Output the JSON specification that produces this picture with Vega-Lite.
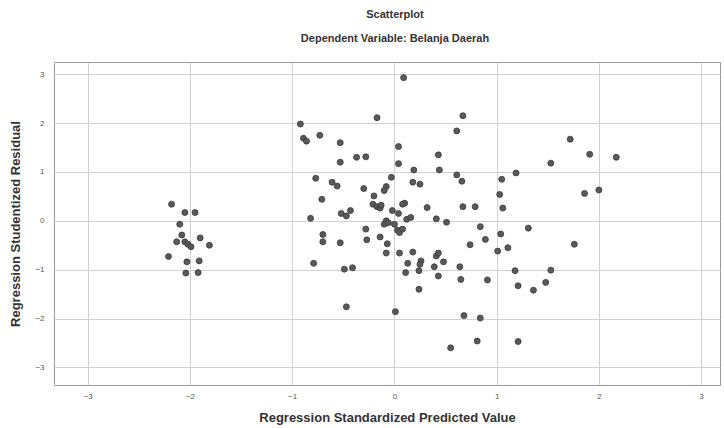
{
  "$schema": "https://vega.github.io/schema/vega-lite/v6.json",
  "width": 666,
  "height": 323,
  "autosize": {"type": "none"},
  "padding": {"left": 54, "top": 62, "right": 4, "bottom": 43},
  "background": "white",
  "title": {
    "text": "Scatterplot",
    "subtitle": "Dependent Variable: Belanja Daerah",
    "anchor": "middle",
    "frame": "group",
    "dx": 8,
    "font": "Liberation Sans",
    "fontSize": 11,
    "fontWeight": "bold",
    "color": "#333",
    "subtitleFont": "Liberation Sans",
    "subtitleFontSize": 11,
    "subtitleFontWeight": "bold",
    "subtitleColor": "#333",
    "subtitlePadding": 13,
    "offset": 18
  },
  "config": {
    "view": {"stroke": "#999", "strokeWidth": 1},
    "axis": {
      "labelFont": "Liberation Sans",
      "labelFontSize": 8,
      "labelColor": "#555",
      "titleFont": "Liberation Sans",
      "titleFontSize": 13,
      "titleFontWeight": "bold",
      "titleColor": "#333",
      "gridColor": "#d2d2d2",
      "gridWidth": 1,
      "domain": false,
      "ticks": false
    }
  },
  "data": {
    "values": [
      {"x": -2.18, "y": 0.34}, {"x": -2.05, "y": 0.17}, {"x": -1.95, "y": 0.17}, {"x": -2.10, "y": -0.07},
      {"x": -2.08, "y": -0.29}, {"x": -2.13, "y": -0.43}, {"x": -2.05, "y": -0.43}, {"x": -2.02, "y": -0.48},
      {"x": -1.99, "y": -0.53}, {"x": -1.90, "y": -0.35}, {"x": -1.81, "y": -0.50}, {"x": -2.21, "y": -0.73},
      {"x": -2.03, "y": -0.84}, {"x": -1.91, "y": -0.82}, {"x": -2.04, "y": -1.07}, {"x": -1.92, "y": -1.06},
      {"x": 0.09, "y": 2.93}, {"x": -0.17, "y": 2.11}, {"x": -0.92, "y": 1.98}, {"x": -0.89, "y": 1.69},
      {"x": -0.86, "y": 1.63}, {"x": -0.73, "y": 1.75}, {"x": -0.53, "y": 1.60}, {"x": 0.04, "y": 1.52},
      {"x": 0.43, "y": 1.35}, {"x": -0.37, "y": 1.30}, {"x": -0.28, "y": 1.31}, {"x": -0.53, "y": 1.20},
      {"x": 0.04, "y": 1.17}, {"x": 0.19, "y": 1.04}, {"x": 0.44, "y": 1.04}, {"x": -0.77, "y": 0.87},
      {"x": -0.03, "y": 0.89}, {"x": -0.61, "y": 0.79}, {"x": -0.56, "y": 0.71}, {"x": -0.30, "y": 0.66},
      {"x": -0.08, "y": 0.70}, {"x": -0.10, "y": 0.62}, {"x": 0.18, "y": 0.79}, {"x": 0.25, "y": 0.75},
      {"x": -0.20, "y": 0.51}, {"x": -0.71, "y": 0.44}, {"x": -0.21, "y": 0.34}, {"x": -0.17, "y": 0.29},
      {"x": -0.14, "y": 0.26}, {"x": -0.13, "y": 0.32}, {"x": -0.02, "y": 0.21}, {"x": 0.04, "y": 0.15},
      {"x": 0.10, "y": 0.36}, {"x": 0.08, "y": 0.34}, {"x": 0.32, "y": 0.27}, {"x": -0.52, "y": 0.15},
      {"x": -0.47, "y": 0.10}, {"x": -0.43, "y": 0.21}, {"x": -0.82, "y": 0.05}, {"x": -0.08, "y": 0.00},
      {"x": -0.10, "y": -0.07}, {"x": 0.00, "y": -0.07}, {"x": 0.12, "y": 0.03}, {"x": 0.16, "y": 0.07},
      {"x": 0.41, "y": 0.04}, {"x": -0.28, "y": -0.17}, {"x": -0.06, "y": -0.04}, {"x": 0.03, "y": -0.19},
      {"x": 0.05, "y": -0.24}, {"x": 0.08, "y": -0.17}, {"x": -0.70, "y": -0.28}, {"x": -0.70, "y": -0.43},
      {"x": -0.53, "y": -0.45}, {"x": -0.27, "y": -0.39}, {"x": -0.14, "y": -0.33}, {"x": -0.07, "y": -0.47},
      {"x": -0.08, "y": -0.66}, {"x": 0.05, "y": -0.66}, {"x": 0.18, "y": -0.64}, {"x": 0.13, "y": -0.87},
      {"x": 0.26, "y": -0.82}, {"x": 0.25, "y": -0.89}, {"x": 0.24, "y": -1.02}, {"x": 0.41, "y": -0.72},
      {"x": 0.43, "y": -0.66}, {"x": 0.39, "y": -0.94}, {"x": 0.43, "y": -1.13}, {"x": -0.79, "y": -0.87},
      {"x": -0.49, "y": -0.99}, {"x": -0.41, "y": -0.96}, {"x": 0.11, "y": -1.06}, {"x": 0.24, "y": -1.40},
      {"x": -0.47, "y": -1.76}, {"x": 0.01, "y": -1.86},
      {"x": 0.67, "y": 2.15}, {"x": 0.61, "y": 1.84}, {"x": 0.61, "y": 0.94}, {"x": 0.66, "y": 0.81},
      {"x": 1.05, "y": 0.85}, {"x": 1.19, "y": 0.98}, {"x": 1.53, "y": 1.18}, {"x": 1.72, "y": 1.67},
      {"x": 1.03, "y": 0.54}, {"x": 1.06, "y": 0.26}, {"x": 0.67, "y": 0.29}, {"x": 0.79, "y": 0.29},
      {"x": 0.51, "y": -0.03}, {"x": 0.84, "y": -0.12}, {"x": 1.31, "y": -0.15},
      {"x": 1.04, "y": -0.27}, {"x": 0.89, "y": -0.38}, {"x": 0.74, "y": -0.49}, {"x": 1.76, "y": -0.48},
      {"x": 1.01, "y": -0.62}, {"x": 1.11, "y": -0.55}, {"x": 0.48, "y": -0.84}, {"x": 0.64, "y": -0.94},
      {"x": 0.65, "y": -1.20}, {"x": 0.91, "y": -1.21}, {"x": 1.18, "y": -1.02}, {"x": 1.53, "y": -1.01},
      {"x": 1.21, "y": -1.33}, {"x": 1.36, "y": -1.42}, {"x": 1.48, "y": -1.26}, {"x": 0.68, "y": -1.94},
      {"x": 0.84, "y": -1.99}, {"x": 0.81, "y": -2.46}, {"x": 1.21, "y": -2.47}, {"x": 0.55, "y": -2.60},
      {"x": 1.91, "y": 1.36}, {"x": 2.17, "y": 1.30}, {"x": 2.00, "y": 0.63}, {"x": 1.86, "y": 0.56}
    ]
  },
  "mark": {"type": "point", "shape": "circle", "filled": true, "size": 36, "color": "#595959", "stroke": "#3a3a3a", "strokeWidth": 0.8, "opacity": 1},
  "encoding": {
    "x": {
      "field": "x",
      "type": "quantitative",
      "title": "Regression Standardized Predicted Value",
      "scale": {"domain": [-3.33, 3.185], "nice": false, "zero": false},
      "axis": {"values": [-3, -2, -1, 0, 1, 2, 3], "labelPadding": 7, "titlePadding": 11}
    },
    "y": {
      "field": "y",
      "type": "quantitative",
      "title": "Regression Studentized Residual",
      "scale": {"domain": [-3.36, 3.25], "nice": false, "zero": false},
      "axis": {"values": [-3, -2, -1, 0, 1, 2, 3], "labelPadding": 10, "titlePadding": 12}
    }
  }
}
